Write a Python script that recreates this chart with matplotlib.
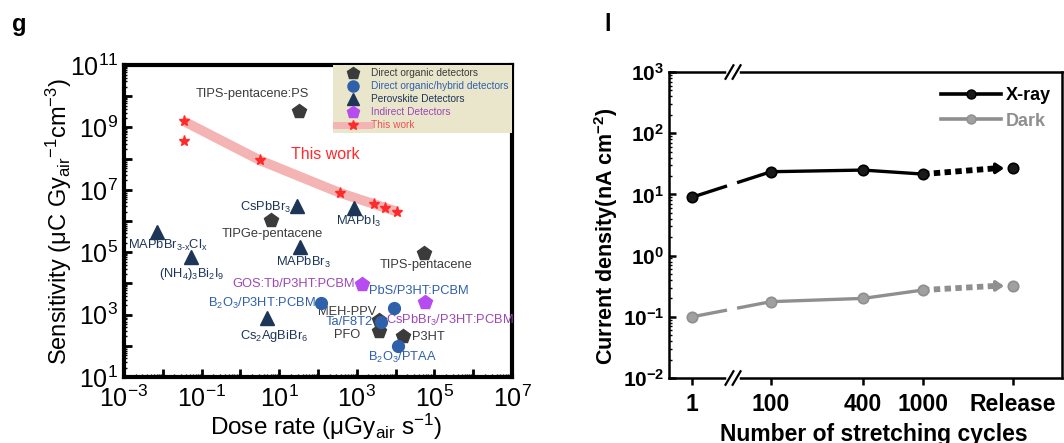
import numpy as np
import matplotlib
matplotlib.use('Agg')
import matplotlib.pyplot as plt
from matplotlib.lines import Line2D
from matplotlib.ticker import LogLocator, FuncFormatter, NullFormatter
from matplotlib import transforms

plt.rcParams['font.family'] = ['Liberation Sans', 'DejaVu Sans']
plt.rcParams['mathtext.fontset'] = 'custom'
plt.rcParams['mathtext.rm'] = 'Liberation Sans'
plt.rcParams['mathtext.it'] = 'Liberation Sans:italic'
plt.rcParams['mathtext.bf'] = 'Liberation Sans:bold'

# ---- panel g data (dose rate in uGy/s, sensitivity in uC Gy^-1 cm^-3)
this_work_dose = [0.0356, 0.0356, 3.24, 369, 2790, 5470, 11170]
this_work_sens = [1.57e9, 3.7e8, 8.8e7, 8.0e6, 3.5e6, 2.66e6, 1.98e6]

organic_names = ['TIPS-pentacene:PS', 'TIPGe-pentacene', 'TIPS-pentacene', 'MEH-PPV', 'PFO', 'P3HT']
organic_dose = [33.2, 6.1, 52700, 3630, 3630, 15500]
organic_sens = [3.27e9, 1.08e6, 9.6e4, 670, 306, 207]

hybrid_names = [r'B$_2$O$_3$/P3HT:PCBM', 'Ta/F8T2', 'PbS/P3HT:PCBM', r'B$_2$O$_3$/PTAA']
hybrid_dose = [120, 4280, 9290, 11860]
hybrid_sens = [2275, 593, 1574, 102]

perov_names = [r'CsPbBr$_3$', r'MAPbI$_3$', r'MAPbBr$_{\mathregular{3‐x}}$Cl$_{\mathregular{x}}$',
               r'(NH$_4$)$_3$Bi$_2$I$_9$', r'MAPbBr$_3$', r'Cs$_2$AgBiBr$_6$']
perov_dose = [29.4, 871, 0.0071, 0.0525, 33.9, 4.98]
perov_sens = [2.93e6, 2.72e6, 4.57e5, 7.3e4, 1.45e5, 757]

indirect_names = ['GOS:Tb/P3HT:PCBM', r'CsPbBr$_3$/P3HT:PCBM']
indirect_dose = [1393, 55980]
indirect_sens = [9860, 2450]

# label positions (data coords)
organic_lab = [(2.03, 1.16e10), (6.6, 3.85e5), (60800, 3.78e4), (578, 1233), (578, 223), (71600, 188)]
hybrid_lab = [(3.59, 2275), (641, 565), (38800, 5600), (14550, 42)]
perov_lab = [(4.58, 2.72e6), (1135, 9.5e5), (0.0136, 1.64e5), (0.0547, 2.05e4), (41.6, 4.8e4), (7.6, 212)]
indirect_lab = [(23.5, 9860), (2.5e5, 670)]

# ---- panel l data
cycles = ['1', '100', '400', '1000', 'Release']
xray = [9.0, 23.5, 25.0, 21.5, 26.7]
xray_err = [0.6, 1.5, 2.0, 1.5, 2.5]
dark = [0.10, 0.177, 0.20, 0.274, 0.32]
dark_err = [0.01, 0.012, 0.02, 0.02, 0.05]

c_org = '#3b3b3b'
c_hyb = '#2f60aa'
c_per = '#1d3557'
c_ind = '#b64cf0'
c_ind_txt = '#9b48b5'
c_red = '#ff2a2a'
c_pink = '#f4b4b4'

fig = plt.figure(figsize=(10.64, 4.43), dpi=100)

# ================= panel g =================
ax = fig.add_axes([0.1165, 0.149, 0.3647, 0.704])
ax.set_xscale('log')
ax.set_yscale('log')
ax.set_xlim(1e-3, 1e7)
ax.set_ylim(1e1, 1e11)

keep = [0, 2, 3, 4, 5, 6]
ax.plot([this_work_dose[i] for i in keep], [this_work_sens[i] for i in keep],
        color=c_pink, lw=7, solid_capstyle='butt', zorder=2)
ax.plot(this_work_dose, this_work_sens, ls='none', marker='*', ms=8, color=c_red, zorder=5)
ax.text(157, 1.33e8, 'This work', color=c_red, fontsize=11.5, ha='center', va='center')

ax.plot(organic_dose, organic_sens, ls='none', marker='p', ms=10, color=c_org, zorder=5)
ax.plot(hybrid_dose, hybrid_sens, ls='none', marker='o', ms=8.5, color=c_hyb, zorder=5)
ax.plot(perov_dose, perov_sens, ls='none', marker='^', ms=9.5, color=c_per, zorder=5)
ax.plot(indirect_dose, indirect_sens, ls='none', marker='p', ms=10, color=c_ind, zorder=5)

for names, labs, col in [(organic_names, organic_lab, c_org), (hybrid_names, hybrid_lab, c_hyb),
                         (perov_names, perov_lab, c_per), (indirect_names, indirect_lab, c_ind_txt)]:
    for n, (lx, ly) in zip(names, labs):
        ax.text(lx, ly, n, color=col, fontsize=9.3, ha='center', va='center', zorder=3)

handles = [
    Line2D([], [], ls='none', marker='p', ms=9, color=c_org),
    Line2D([], [], ls='none', marker='o', ms=8, color=c_hyb),
    Line2D([], [], ls='none', marker='^', ms=8.5, color=c_per),
    Line2D([], [], ls='none', marker='p', ms=9, color=c_ind),
    Line2D([], [], color=c_pink, lw=5, marker='*', ms=7, mfc=c_red, mec=c_red),
]
labels = ['Direct organic detectors', 'Direct organic/hybrid detectors', 'Perovskite Detectors',
          'Indirect Detectors', 'This work']
leg = ax.legend(handles, labels, loc='upper right', borderaxespad=0, fontsize=7.3,
                labelcolor=[c_org, c_hyb, c_per, c_ind_txt, '#f05050'],
                handlelength=3.3, handletextpad=0.2, labelspacing=0.3, borderpad=0.3,
                frameon=True, fancybox=False, facecolor='#e9e6cc', edgecolor='none', framealpha=1)
leg.set_zorder(6)

def dec_fmt(v, p):
    e = int(round(np.log10(v)))
    if e % 2 == 0:
        return ''
    return r'$\mathregular{10^{%d}}$' % e

for axis in (ax.xaxis, ax.yaxis):
    axis.set_major_locator(LogLocator(base=10, numticks=20))
    axis.set_major_formatter(FuncFormatter(dec_fmt))
    axis.set_minor_locator(LogLocator(base=10, subs=np.arange(2, 10), numticks=20))
    axis.set_minor_formatter(NullFormatter())
ax.tick_params(which='major', direction='in', length=6, width=2, labelsize=18, pad=4,
               top=False, right=False)
ax.tick_params(axis='x', which='major', pad=6)
ax.tick_params(which='minor', direction='in', length=2.5, width=1, top=False, right=False)
for s in ax.spines.values():
    s.set_linewidth(3)

ax.set_xlabel(r'Dose rate ($\mathregular{\mu}$Gy$_{\mathregular{air}}$ s$^{\mathregular{-1}}$)', fontsize=17.5)
ax.xaxis.set_label_coords(0.52, -0.112)
ax.set_ylabel(r'Sensitivity ($\mathregular{\mu}$C Gy$_{\mathregular{air}}$$^{\mathregular{-1}}$cm$^{\mathregular{-3}}$)',
              fontsize=17)
ax.yaxis.set_label_coords(-0.13, 0.5)

fig.text(0.011, 0.944, 'g', fontsize=17, fontweight='bold', ha='left', va='center')
fig.text(0.568, 0.944, 'l', fontsize=17, fontweight='bold', ha='left', va='center')

# ================= panel l =================
bx = fig.add_axes([0.6288, 0.1467, 0.3694, 0.6907])
bx.set_yscale('log')
slot = [0, 1, 2.165, 2.924, 4.063]
bx.set_xlim(-0.291, 4.684)
bx.set_ylim(1e-2, 1e3)
xbreak = 0.519
gap = (0.443, 0.57)

def log_interp(xq, x0, x1, y0, y1):
    t = (xq - x0) / (x1 - x0)
    return 10 ** (np.log10(y0) + t * (np.log10(y1) - np.log10(y0)))

for vals, errs, col, mfc, lab in [(xray, xray_err, 'black', '#1a1a1a', 'X-ray'),
                                  (dark, dark_err, '#8f8f8f', '#a0a0a0', 'Dark')]:
    lw = 2.4
    ya = log_interp(gap[0], slot[0], slot[1], vals[0], vals[1])
    yb = log_interp(gap[1], slot[0], slot[1], vals[0], vals[1])
    bx.plot([slot[0], gap[0]], [vals[0], ya], color=col, lw=lw, solid_capstyle='butt')
    bx.plot([gap[1], slot[1]], [yb, vals[1]], color=col, lw=lw, solid_capstyle='butt')
    bx.plot(slot[1:4], vals[1:4], color=col, lw=lw)
    # dotted arrow towards release
    bx.plot([slot[3], 3.84], [vals[3], vals[4]], color=col, lw=4.2,
            dashes=(1.1, 0.75), dash_capstyle='butt')
    bx.annotate('', xy=(3.95, vals[4]), xytext=(3.82, vals[4]),
                arrowprops=dict(arrowstyle='-|>,head_length=0.45,head_width=0.3',
                                color=col, lw=2.5, shrinkA=0, shrinkB=0))
    bx.errorbar(slot, vals, yerr=errs, ls='none', ecolor=col, elinewidth=1.2, capsize=0, zorder=4)
    bx.plot(slot, vals, ls='none', marker='o', ms=7.5, mfc=mfc, mec=col, mew=1.2, zorder=5)

lh = [Line2D([], [], color='black', lw=2.6, marker='o', ms=6.5, mfc='#1a1a1a', mec='black'),
      Line2D([], [], color='#8f8f8f', lw=2.6, marker='o', ms=6.5, mfc='#a0a0a0', mec='#8f8f8f')]
bx.legend(lh, ['X-ray', 'Dark'], loc='upper right', bbox_to_anchor=(1.0, 0.985), frameon=False,
          prop={'size': 13, 'weight': 'bold'}, labelcolor=['black', '#8f8f8f'],
          handlelength=3.3, handletextpad=0.3, labelspacing=0.45, borderaxespad=0.2)

bx.set_xticks(slot)
bx.set_xticklabels(cycles)
bx.yaxis.set_major_locator(LogLocator(base=10, numticks=10))
bx.yaxis.set_major_formatter(FuncFormatter(lambda v, p: r'$\mathbf{10^{%d}}$' % int(round(np.log10(v)))))
bx.yaxis.set_minor_locator(LogLocator(base=10, subs=np.arange(2, 10), numticks=10))
bx.yaxis.set_minor_formatter(NullFormatter())
bx.tick_params(axis='y', which='major', direction='in', length=5, width=1.8, labelsize=15)
bx.tick_params(axis='y', which='minor', direction='in', length=2.5, width=1)
bx.tick_params(axis='x', which='major', direction='out', length=5, width=1.8, labelsize=16.5, pad=6)
for t in bx.get_xticklabels():
    t.set_fontweight('bold')
for s in bx.spines.values():
    s.set_linewidth(1.8)

# axis break marks
trans = transforms.blended_transform_factory(bx.transData, bx.transAxes)
for yb0 in (0, 1):
    bx.plot([xbreak - 0.05, xbreak + 0.05], [yb0, yb0], color='white', lw=4,
            transform=trans, clip_on=False, zorder=7)
    for dx in (-0.045, 0.045):
        bx.plot([xbreak + dx - 0.05, xbreak + dx + 0.05], [yb0 - 0.022, yb0 + 0.022], color='black',
                lw=1.6, transform=trans, clip_on=False, zorder=8)

bx.set_xlabel('Number of stretching cycles', fontsize=16.5, fontweight='bold')
bx.xaxis.set_label_coords(0.52, -0.148)
bx.set_ylabel(r'Current density(nA cm$^{\mathregular{-2}}$)', fontsize=15.5, fontweight='bold')
bx.yaxis.set_label_coords(-0.125, 0.465)

fig.savefig('out.png', dpi=100)
